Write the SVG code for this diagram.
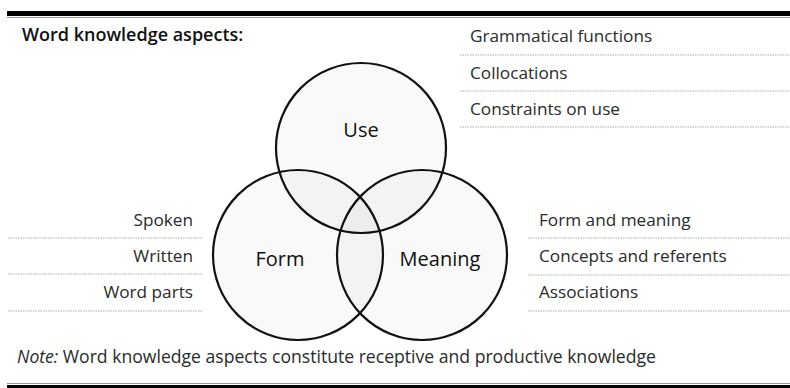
<svg xmlns="http://www.w3.org/2000/svg" width="790" height="388" viewBox="0 0 790 388">
<style>
text{font-family:"Open Sans","Noto Sans",sans-serif;fill:#2a2a2a;}
.lbl{font-size:17.2px;}
.big{font-size:20px;text-anchor:middle;fill:#111;}
.dot{stroke:#aaa;stroke-width:1;stroke-dasharray:1.5 1;fill:none;}
.c{fill:#000;fill-opacity:0.025;stroke:#111;stroke-width:2.2;}
</style>
<rect x="7" y="11" width="783" height="5" fill="#000"/>
<line x1="7" y1="17.5" x2="790" y2="17.5" stroke="#999" stroke-width="1"/>
<line x1="7" y1="383.5" x2="790" y2="383.5" stroke="#999" stroke-width="1"/>
<rect x="7" y="385" width="783" height="3" fill="#000"/>
<text x="22" y="41" style="font-weight:600;font-size:18px;fill:#111">Word knowledge aspects:</text>
<g id="use-list">
<text x="470" y="42" class="lbl">Grammatical functions</text>
<text x="470" y="79" class="lbl">Collocations</text>
<text x="470" y="115" class="lbl">Constraints on use</text>
</g>
<g id="form-list">
<text x="193" y="226" class="lbl" text-anchor="end">Spoken</text>
<text x="193" y="262" class="lbl" text-anchor="end">Written</text>
<text x="193" y="298" class="lbl" text-anchor="end">Word parts</text>
</g>
<g id="meaning-list">
<text x="539" y="226" class="lbl">Form and meaning</text>
<text x="539" y="262" class="lbl">Concepts and referents</text>
<text x="539" y="298" class="lbl">Associations</text>
</g>
<g id="connectors">
<line class="dot" x1="460" y1="55" x2="790" y2="55"/>
<line class="dot" x1="460" y1="91" x2="790" y2="91"/>
<line class="dot" x1="460" y1="127" x2="790" y2="127"/>
<line class="dot" x1="8" y1="238" x2="202" y2="238"/>
<line class="dot" x1="8" y1="274" x2="202" y2="274"/>
<line class="dot" x1="8" y1="311" x2="202" y2="311"/>
<line class="dot" x1="528" y1="238" x2="790" y2="238"/>
<line class="dot" x1="528" y1="275" x2="790" y2="275"/>
<line class="dot" x1="528" y1="311" x2="790" y2="311"/>
</g>
<g id="use">
<circle class="c" cx="361" cy="148" r="85"/>
<text x="361" y="137" class="big">Use</text>
</g>
<g id="form">
<circle class="c" cx="298" cy="255" r="85"/>
<text x="280" y="266" class="big">Form</text>
</g>
<g id="meaning">
<circle class="c" cx="422" cy="255" r="85"/>
<text x="440" y="266" class="big">Meaning</text>
</g>
<text x="17" y="363" style="font-size:17.6px"><tspan font-style="italic">Note:</tspan> Word knowledge aspects constitute receptive and productive knowledge</text>
</svg>
